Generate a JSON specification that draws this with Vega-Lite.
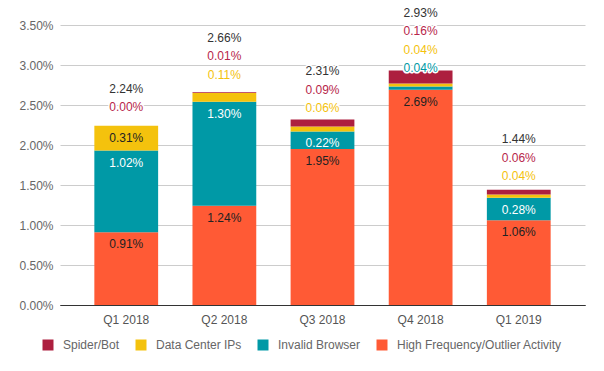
{
  "$schema": "https://vega.github.io/schema/vega-lite/v6.json",
  "width": 525,
  "height": 280,
  "autosize": {"type": "none"},
  "padding": {"left": 60, "top": 25, "right": 19, "bottom": 66},
  "background": "white",
  "config": {
    "font": "Arial, Liberation Sans, sans-serif",
    "view": {"stroke": null},
    "text": {"font": "Arial, Liberation Sans, sans-serif", "fontSize": 12},
    "axisY": {
      "title": null,
      "values": [0, 0.5, 1, 1.5, 2, 2.5, 3, 3.5],
      "labelExpr": "format(datum.value, '.2f') + '%'",
      "labelOverlap": false,
      "domain": false, "ticks": false, "labelPadding": 7,
      "labelColor": "#666666", "labelFontSize": 12, "labelFont": "Arial, Liberation Sans, sans-serif",
      "gridColor": {"condition": {"test": "datum.value === 0", "value": "#333333"}, "value": "#cccccc"}
    },
    "axisX": {
      "title": null, "labelAngle": 0, "ticks": false, "domain": true, "domainColor": "#333333",
      "labelPadding": 9, "labelColor": "#555555", "labelFontSize": 12, "labelFont": "Arial, Liberation Sans, sans-serif"
    }
  },
  "data": {
    "values": [
      {"quarter": "Q1 2018", "type": "High Frequency/Outlier Activity", "order": 1, "value": 0.91},
      {"quarter": "Q1 2018", "type": "Invalid Browser", "order": 2, "value": 1.02},
      {"quarter": "Q1 2018", "type": "Data Center IPs", "order": 3, "value": 0.31},
      {"quarter": "Q1 2018", "type": "Spider/Bot", "order": 4, "value": 0.00},
      {"quarter": "Q1 2018", "type": "Total", "order": 5, "value": 2.24},
      {"quarter": "Q2 2018", "type": "High Frequency/Outlier Activity", "order": 1, "value": 1.24},
      {"quarter": "Q2 2018", "type": "Invalid Browser", "order": 2, "value": 1.30},
      {"quarter": "Q2 2018", "type": "Data Center IPs", "order": 3, "value": 0.11},
      {"quarter": "Q2 2018", "type": "Spider/Bot", "order": 4, "value": 0.01},
      {"quarter": "Q2 2018", "type": "Total", "order": 5, "value": 2.66},
      {"quarter": "Q3 2018", "type": "High Frequency/Outlier Activity", "order": 1, "value": 1.95},
      {"quarter": "Q3 2018", "type": "Invalid Browser", "order": 2, "value": 0.22},
      {"quarter": "Q3 2018", "type": "Data Center IPs", "order": 3, "value": 0.06},
      {"quarter": "Q3 2018", "type": "Spider/Bot", "order": 4, "value": 0.09},
      {"quarter": "Q3 2018", "type": "Total", "order": 5, "value": 2.31},
      {"quarter": "Q4 2018", "type": "High Frequency/Outlier Activity", "order": 1, "value": 2.69},
      {"quarter": "Q4 2018", "type": "Invalid Browser", "order": 2, "value": 0.04},
      {"quarter": "Q4 2018", "type": "Data Center IPs", "order": 3, "value": 0.04},
      {"quarter": "Q4 2018", "type": "Spider/Bot", "order": 4, "value": 0.16},
      {"quarter": "Q4 2018", "type": "Total", "order": 5, "value": 2.93},
      {"quarter": "Q1 2019", "type": "High Frequency/Outlier Activity", "order": 1, "value": 1.06},
      {"quarter": "Q1 2019", "type": "Invalid Browser", "order": 2, "value": 0.28},
      {"quarter": "Q1 2019", "type": "Data Center IPs", "order": 3, "value": 0.04},
      {"quarter": "Q1 2019", "type": "Spider/Bot", "order": 4, "value": 0.06},
      {"quarter": "Q1 2019", "type": "Total", "order": 5, "value": 1.44}
    ]
  },
  "layer": [
    {
      "transform": [{"filter": "datum.type !== 'Total'"}],
      "mark": {"type": "bar"},
      "encoding": {
        "x": {
          "field": "quarter", "type": "nominal", "sort": null,
          "scale": {"paddingInner": 0.35, "paddingOuter": 0.35}
        },
        "y": {
          "field": "value", "type": "quantitative", "stack": "zero",
          "scale": {"domain": [0, 3.5], "nice": false, "zero": true}
        },
        "order": {"field": "order", "type": "quantitative"},
        "color": {
          "field": "type", "type": "nominal",
          "scale": {
            "domain": ["Spider/Bot", "Data Center IPs", "Invalid Browser", "High Frequency/Outlier Activity"],
            "range": ["#AD1F3F", "#F4C20D", "#0099A6", "#FF5A35"]
          },
          "legend": {
            "title": null, "orient": "none", "direction": "horizontal",
            "legendX": -18, "legendY": 314, "padding": 0,
            "symbolType": "square", "symbolSize": 121, "symbolStrokeWidth": 0,
            "labelFontSize": 12, "labelColor": "#666666", "labelFont": "Arial, Liberation Sans, sans-serif",
            "labelOffset": 9, "columnPadding": 15, "labelLimit": 0
          }
        }
      }
    },
    {
      "transform": [
        {"filter": "datum.type !== 'Total'"},
        {"stack": "value", "groupby": ["quarter"], "sort": [{"field": "order"}], "as": ["v0", "v1"]},
        {"filter": "datum.value >= 0.2"},
        {"calculate": "format(datum.value, '.2f') + '%'", "as": "label"}
      ],
      "mark": {"type": "text", "baseline": "middle", "align": "center", "dy": 12, "fontSize": 12},
      "encoding": {
        "x": {"field": "quarter", "type": "nominal", "sort": null},
        "y": {"field": "v1", "type": "quantitative"},
        "text": {"field": "label"},
        "color": {"condition": {"test": "datum.type === 'Invalid Browser'", "value": "#ffffff"}, "value": "#222222"}
      }
    },
    {
      "transform": [
        {"stack": "value", "groupby": ["quarter"], "sort": [{"field": "order"}], "as": ["v0", "v1"]},
        {"filter": "datum.value < 0.2 || datum.type === 'Total'"},
        {"window": [{"op": "row_number", "as": "r"}, {"op": "first_value", "field": "v1", "as": "e0"}], "groupby": ["quarter"], "sort": [{"field": "order"}]},
        {"calculate": "datum.e0 + 0.23125 * datum.r", "as": "ly"},
        {"calculate": "format(datum.value, '.2f') + '%'", "as": "label"}
      ],
      "mark": {"type": "text", "baseline": "middle", "align": "center", "fontSize": 12, "stroke": "#ffffff", "strokeWidth": 3, "strokeJoin": "round", "fill": "#ffffff"},
      "encoding": {
        "x": {"field": "quarter", "type": "nominal", "sort": null},
        "y": {"field": "ly", "type": "quantitative"},
        "text": {"field": "label"}
      }
    },
    {
      "transform": [
        {"stack": "value", "groupby": ["quarter"], "sort": [{"field": "order"}], "as": ["v0", "v1"]},
        {"filter": "datum.value < 0.2 || datum.type === 'Total'"},
        {"window": [{"op": "row_number", "as": "r"}, {"op": "first_value", "field": "v1", "as": "e0"}], "groupby": ["quarter"], "sort": [{"field": "order"}]},
        {"calculate": "datum.e0 + 0.23125 * datum.r", "as": "ly"},
        {"calculate": "format(datum.value, '.2f') + '%'", "as": "label"}
      ],
      "mark": {"type": "text", "baseline": "middle", "align": "center", "fontSize": 12},
      "encoding": {
        "x": {"field": "quarter", "type": "nominal", "sort": null},
        "y": {"field": "ly", "type": "quantitative"},
        "text": {"field": "label"},
        "color": {
          "condition": [
            {"test": "datum.type === 'Spider/Bot'", "value": "#B7264A"},
            {"test": "datum.type === 'Data Center IPs'", "value": "#F4C20D"},
            {"test": "datum.type === 'Invalid Browser'", "value": "#0099A6"}
          ],
          "value": "#333333"
        }
      }
    }
  ]
}
